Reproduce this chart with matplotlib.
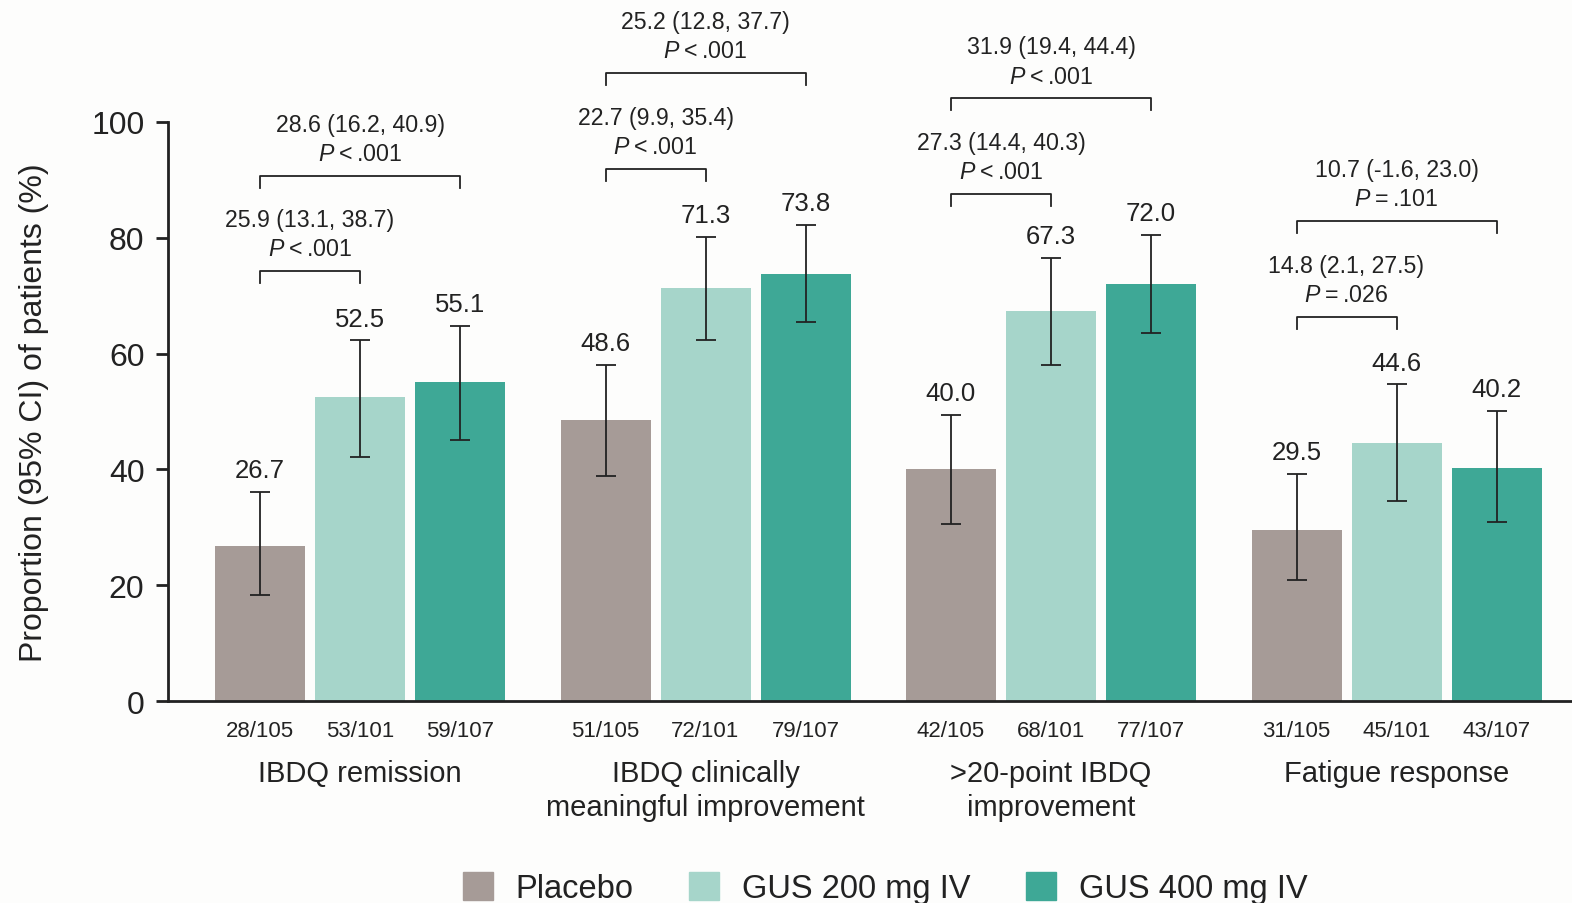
import matplotlib
matplotlib.use("Agg")
import matplotlib.pyplot as plt
import numpy as np

plt.rcParams['font.family'] = ['Liberation Sans', 'DejaVu Sans']
plt.rcParams['mathtext.fontset'] = 'custom'
plt.rcParams['mathtext.it'] = 'Liberation Sans:italic'
plt.rcParams['mathtext.rm'] = 'Liberation Sans'

# ---- data ----
categories = ["IBDQ remission", "IBDQ clinically\nmeaningful improvement",
              ">20-point IBDQ\nimprovement", "Fatigue response"]
series = ["Placebo", "GUS 200 mg IV", "GUS 400 mg IV"]
placebo = [26.7, 48.6, 40.0, 29.5]
gus200 = [52.5, 71.3, 67.3, 44.6]
gus400 = [55.1, 73.8, 72.0, 40.2]
placebo_lo = [18.3, 38.9, 30.6, 20.9]
placebo_hi = [36.1, 58.0, 49.4, 39.2]
gus200_lo = [42.1, 62.3, 58.0, 34.5]
gus200_hi = [62.3, 80.1, 76.5, 54.7]
gus400_lo = [45.1, 65.5, 63.6, 30.9]
gus400_hi = [64.8, 82.2, 80.5, 50.1]
placebo_n = ["28/105", "51/105", "42/105", "31/105"]
gus200_n = ["53/101", "72/101", "68/101", "45/101"]
gus400_n = ["59/107", "79/107", "77/107", "43/107"]
diff200 = ["25.9 (13.1, 38.7)", "22.7 (9.9, 35.4)", "27.3 (14.4, 40.3)", "14.8 (2.1, 27.5)"]
p200 = ["<.001", "<.001", "<.001", "=.026"]
diff400 = ["28.6 (16.2, 40.9)", "25.2 (12.8, 37.7)", "31.9 (19.4, 44.4)", "10.7 (-1.6, 23.0)"]
p400 = ["<.001", "<.001", "<.001", "=.101"]
yticks = [0, 20, 40, 60, 80, 100]

colors = ["#a69b97", "#a6d5ca", "#3ea896"]
bg = "#fdfdfc"
ink = "#222222"

fig = plt.figure(figsize=(15.72, 9.04), dpi=100, facecolor=bg)
ax = fig.add_axes([168/1572, 1-702/904, (1572-168)/1572, (702-123)/904])
ax.set_facecolor(bg)

gx = np.arange(4) * 3.455
vals = [placebo, gus200, gus400]
los = [placebo_lo, gus200_lo, gus400_lo]
his = [placebo_hi, gus200_hi, gus400_hi]
ns = [placebo_n, gus200_n, gus400_n]
for s in range(3):
    x = gx + (s - 1)
    v = np.array(vals[s])
    lo = np.array(los[s]); hi = np.array(his[s])
    ax.bar(x, v, width=0.9, color=colors[s], label=series[s], zorder=2)
    ax.errorbar(x, v, yerr=[v - lo, hi - v], fmt='none', ecolor=ink,
                elinewidth=1.3, capsize=7.5, capthick=1.3, zorder=3)
    for i in range(4):
        ax.annotate(f"{v[i]:.1f}", (x[i], hi[i]), xytext=(0, 7),
                    textcoords='offset points', ha='center', va='bottom',
                    fontsize=18.5, color=ink)
        ax.annotate(ns[s][i], (x[i], 0), xytext=(0, -21.5), textcoords='offset points',
                    ha='center', va='center', fontsize=16, color=ink,
                    annotation_clip=False)

for i in range(4):
    ax.annotate(categories[i], (gx[i], 0), xytext=(0, -42), textcoords='offset points',
                ha='center', va='top', fontsize=21, color=ink,
                linespacing=1.25, annotation_clip=False)

def bracket(x0, x1, y, t1, t2):
    leg = 2.1
    ax.plot([x0, x0, x1, x1], [y - leg, y, y, y - leg], color=ink, lw=1.3,
            clip_on=False, zorder=3)
    xc = (x0 + x1) / 2
    ax.annotate(t2, (xc, y), xytext=(0, 16), textcoords='offset points',
                ha='center', va='center', fontsize=16.7, color=ink,
                annotation_clip=False)
    ax.annotate(t1, (xc, y), xytext=(0, 37), textcoords='offset points',
                ha='center', va='center', fontsize=16.7, color=ink,
                annotation_clip=False)

def ptext(p):
    return r"$\mathit{P}$" + "\u2009" + p[0] + "\u2009" + p[1:]

# bracket heights (data units)
b200 = [74.3, 91.9, 87.6, 66.3]
b400 = [90.7, 108.5, 104.1, 82.9]
for i in range(4):
    bracket(gx[i] - 1, gx[i], b200[i], diff200[i], ptext(p200[i]))
    bracket(gx[i] - 1, gx[i] + 1, b400[i], diff400[i], ptext(p400[i]))

ax.set_xlim(-1.92, (1572 - 360) / 100)
ax.set_ylim(0, 100)
ax.set_yticks(yticks)
ax.tick_params(axis='y', labelsize=23, length=9, width=2, pad=8, colors=ink)
ax.tick_params(axis='x', bottom=False, labelbottom=False)
for sp in ['top', 'right']:
    ax.spines[sp].set_visible(False)
for sp in ['left', 'bottom']:
    ax.spines[sp].set_linewidth(2)
    ax.spines[sp].set_color(ink)
ax.set_ylabel("Proportion (95% CI) of patients (%)", fontsize=23, color=ink, labelpad=30)

handles = [plt.Rectangle((0, 0), 1, 1, color=c) for c in colors]
fig.legend(handles, series, loc='center', bbox_to_anchor=(0.563, 1 - 889/904), ncol=3,
           frameon=False, fontsize=23.5, handlelength=0.92, handleheight=0.92,
           handletextpad=0.7, columnspacing=1.7, labelcolor=ink)

fig.savefig("out.png", dpi=100, facecolor=bg)
